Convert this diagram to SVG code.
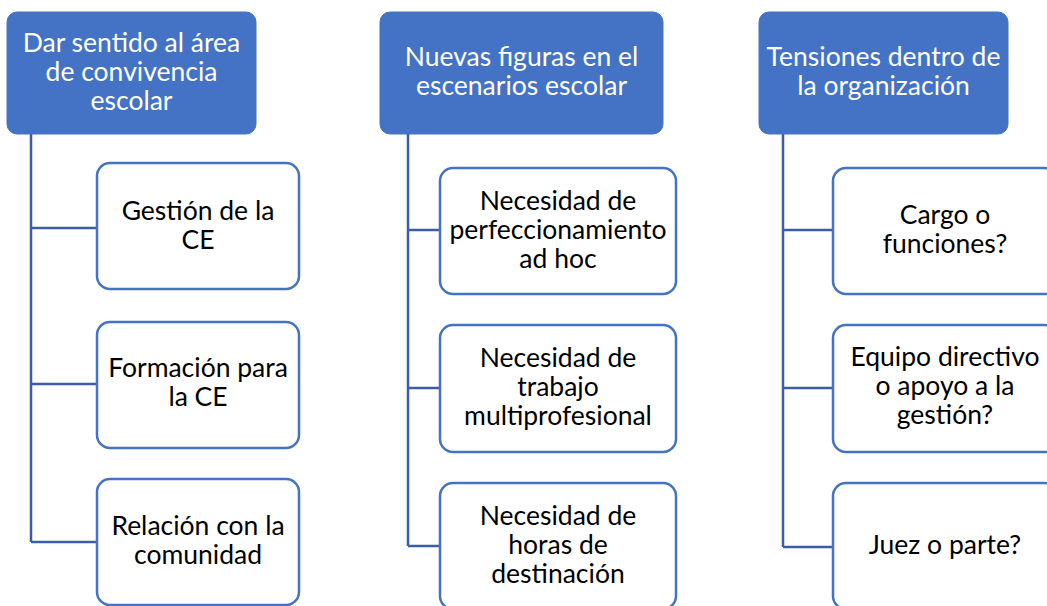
<svg xmlns="http://www.w3.org/2000/svg" width="1047" height="606" viewBox="0 0 1047 606">
<style>
.hdr{fill:#4472C4;stroke:#4472C4;stroke-width:1}
.child{fill:#ffffff;stroke:#4472C4;stroke-width:2.5}
.conn{fill:none;stroke:#3B5DA5;stroke-width:2.5}
text{font-family:Lato,"Open Sans","Liberation Sans",sans-serif;font-size:26.5px;text-anchor:middle}
.ht{fill:#ffffff}
.ct{fill:#000000}
</style>
<rect width="1047" height="606" fill="#ffffff"/>
<g id="connectors">
<path class="conn" d="M31,134 V542 M31,228 H97 M31,384 H97 M31,542 H97"/>
<path class="conn" d="M408,134 V546 M408,230 H440 M408,388 H440 M408,546 H440"/>
<path class="conn" d="M783,134 V547 M783,230 H833 M783,388 H833 M783,547 H833"/>
</g>
<g id="h1"><rect class="hdr" x="7" y="12" width="249" height="122" rx="10"/>
<text class="ht" x="131.5" y="52">Dar sentido al área</text><text class="ht" x="131.5" y="81">de convivencia</text><text class="ht" x="131.5" y="110">escolar</text></g>
<g id="h2"><rect class="hdr" x="380" y="12" width="283" height="122" rx="10"/>
<text class="ht" x="521.5" y="66">Nuevas figuras en el</text><text class="ht" x="521.5" y="95">escenarios escolar</text></g>
<g id="h3"><rect class="hdr" x="759" y="12" width="249" height="122" rx="10"/>
<text class="ht" x="883.5" y="66">Tensiones dentro de</text><text class="ht" x="883.5" y="95">la organización</text></g>
<g id="c11"><rect class="child" x="97" y="163" width="202" height="126" rx="13"/>
<text class="ct" x="198" y="220">Gestión de la</text><text class="ct" x="198" y="249">CE</text></g>
<g id="c12"><rect class="child" x="97" y="322" width="202" height="126" rx="13"/>
<text class="ct" x="198" y="377">Formación para</text><text class="ct" x="198" y="406">la CE</text></g>
<g id="c13"><rect class="child" x="97" y="479" width="202" height="126" rx="13"/>
<text class="ct" x="198" y="535">Relación con la</text><text class="ct" x="198" y="564">comunidad</text></g>
<g id="c21"><rect class="child" x="440" y="168" width="236" height="126" rx="13"/>
<text class="ct" x="558" y="210">Necesidad de</text><text class="ct" x="558" y="239">perfeccionamiento</text><text class="ct" x="558" y="268">ad hoc</text></g>
<g id="c22"><rect class="child" x="440" y="325" width="236" height="127" rx="13"/>
<text class="ct" x="558" y="367">Necesidad de</text><text class="ct" x="558" y="396">trabajo</text><text class="ct" x="558" y="425">multiprofesional</text></g>
<g id="c23"><rect class="child" x="440" y="483" width="236" height="126" rx="13"/>
<text class="ct" x="558" y="525">Necesidad de</text><text class="ct" x="558" y="554">horas de</text><text class="ct" x="558" y="583">destinación</text></g>
<g id="c31"><rect class="child" x="833" y="168" width="224" height="126" rx="13"/>
<text class="ct" x="945" y="224">Cargo o</text><text class="ct" x="945" y="253">funciones?</text></g>
<g id="c32"><rect class="child" x="833" y="325" width="224" height="127" rx="13"/>
<text class="ct" x="945" y="366">Equipo directivo</text><text class="ct" x="945" y="395">o apoyo a la</text><text class="ct" x="945" y="424">gestión?</text></g>
<g id="c33"><rect class="child" x="833" y="483" width="224" height="126" rx="13"/>
<text class="ct" x="945" y="554">Juez o parte?</text></g>
</svg>
